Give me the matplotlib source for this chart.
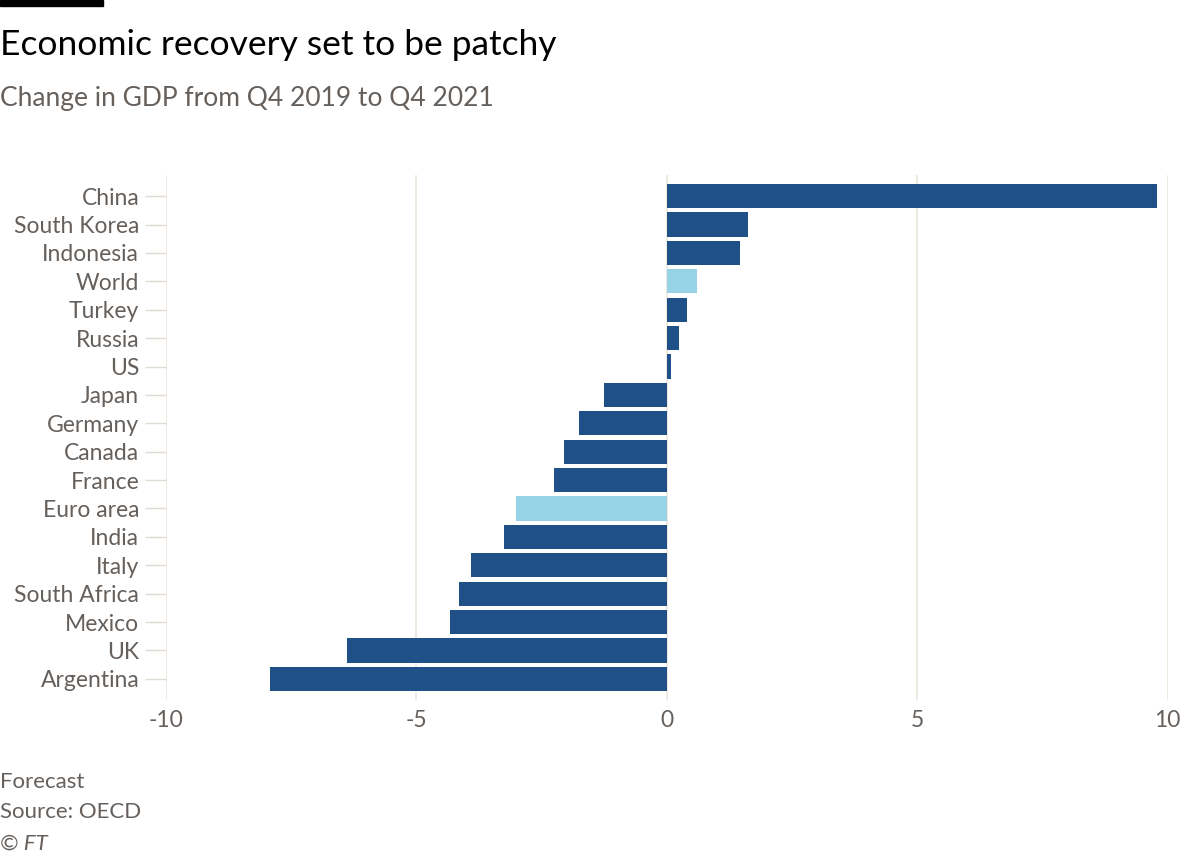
import matplotlib.pyplot as plt
from matplotlib.patches import Rectangle

plt.rcParams['font.family'] = ['Lato', 'DejaVu Sans']

countries = ["China", "South Korea", "Indonesia", "World", "Turkey", "Russia", "US",
             "Japan", "Germany", "Canada", "France", "Euro area", "India", "Italy",
             "South Africa", "Mexico", "UK", "Argentina"]
gdp_change = [9.78, 1.62, 1.46, 0.6, 0.4, 0.24, 0.08,
              -1.24, -1.74, -2.04, -2.24, -3.0, -3.25, -3.9,
              -4.15, -4.33, -6.37, -7.92]
highlight = ["World", "Euro area"]

dark_blue = "#1f5188"
light_blue = "#96d3e7"
colors = [light_blue if c in highlight else dark_blue for c in countries]

fig = plt.figure(figsize=(12, 8.57), dpi=100)
ax = fig.add_axes([0.138, 0.183, 0.835, 0.613])

ypos = list(range(len(countries)))
ax.barh(ypos, gdp_change, height=0.85, color=colors, zorder=3)

ax.set_xlim(-10, 10)
ax.set_ylim(len(countries) - 0.25, -0.75)
ax.set_xticks([-10, -5, 0, 5, 10])
ax.set_xticklabels(["-10", "-5", "0", "5", "10"])
ax.set_yticks(ypos)
ax.set_yticklabels(countries)

ax.grid(axis='x', color="#ebe6dd", linewidth=1.2, zorder=0)
for s in ax.spines.values():
    s.set_visible(False)
ax.tick_params(axis='x', length=0, pad=7, labelsize=16.5, labelcolor="#66605c")
ax.tick_params(axis='y', length=15, width=1, color="#e0dbd3", pad=4,
               labelsize=16.5, labelcolor="#66605c")

fig.patches.append(Rectangle((0, 0.993), 0.086, 0.007, transform=fig.transFigure,
                             color="black", figure=fig))
fig.text(0.0, 0.948, "Economic recovery set to be patchy", fontsize=25.5,
         color="black", va="center", ha="left")
fig.text(0.0, 0.885, "Change in GDP from Q4 2019 to Q4 2021", fontsize=19,
         color="#66605c", va="center", ha="left")
fig.text(0.0, 0.087, "Forecast", fontsize=16, color="#66605c", va="center")
fig.text(0.0, 0.052, "Source: OECD", fontsize=16, color="#66605c", va="center")
fig.text(0.0, 0.016, "© FT", fontsize=16, color="#66605c", va="center", style="italic")

fig.savefig("out.png", dpi=100, facecolor="white")
